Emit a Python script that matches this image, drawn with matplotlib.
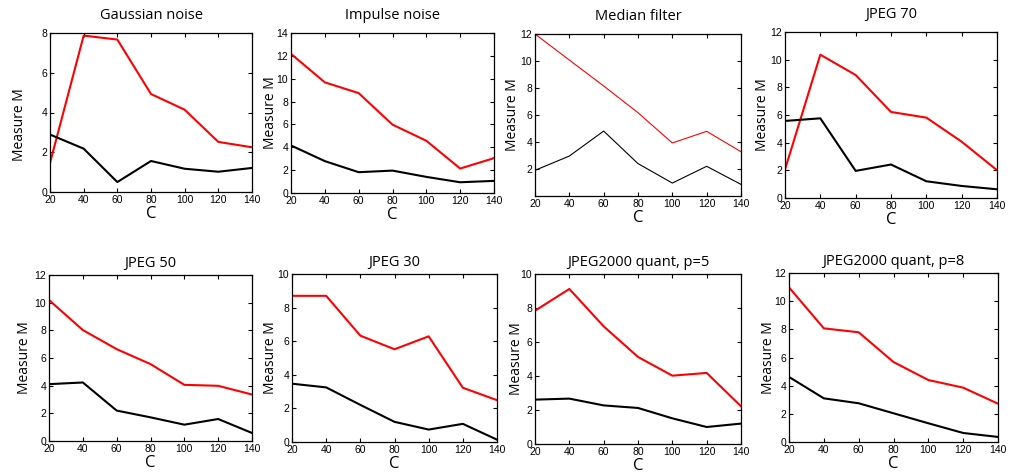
import matplotlib
matplotlib.use("Agg")
import matplotlib.pyplot as plt

C = [20, 40, 60, 80, 100, 120, 140]

titles = ["Gaussian noise", "Impulse noise", "Median filter", "JPEG 70",
          "JPEG 50", "JPEG 30", "JPEG2000 quant, p=5", "JPEG2000 quant, p=8"]

red_gauss = [1.46, 7.87, 7.67, 4.93, 4.14, 2.52, 2.25]
black_gauss = [2.89, 2.18, 0.50, 1.56, 1.17, 1.02, 1.21]
red_impulse = [12.17, 9.68, 8.74, 5.98, 4.57, 2.14, 3.05]
black_impulse = [4.16, 2.79, 1.82, 1.96, 1.41, 0.94, 1.06]
red_median = [12.0, 10.07, 8.15, 6.17, 3.93, 4.79, 3.28]
black_median = [1.90, 2.96, 4.81, 2.40, 0.96, 2.20, 0.86]
red_jpeg70 = [2.06, 10.36, 8.89, 6.22, 5.81, 4.07, 2.01]
black_jpeg70 = [5.57, 5.76, 1.96, 2.42, 1.21, 0.87, 0.63]
red_jpeg50 = [10.19, 8.02, 6.64, 5.56, 4.06, 3.99, 3.36]
black_jpeg50 = [4.11, 4.23, 2.20, 1.71, 1.18, 1.59, 0.58]
red_jpeg30 = [8.70, 8.70, 6.33, 5.52, 6.29, 3.23, 2.49]
black_jpeg30 = [3.47, 3.25, 2.21, 1.20, 0.74, 1.08, 0.14]
red_j2k5 = [7.84, 9.12, 6.92, 5.12, 4.02, 4.18, 2.22]
black_j2k5 = [2.61, 2.67, 2.27, 2.12, 1.51, 1.00, 1.20]
red_j2k8 = [10.98, 8.07, 7.79, 5.68, 4.40, 3.86, 2.72]
black_j2k8 = [4.62, 3.10, 2.75, 2.04, 1.33, 0.64, 0.36]

reds = [red_gauss, red_impulse, red_median, red_jpeg70,
        red_jpeg50, red_jpeg30, red_j2k5, red_j2k8]
blacks = [black_gauss, black_impulse, black_median, black_jpeg70,
          black_jpeg50, black_jpeg30, black_j2k5, black_j2k8]
ymax = [8, 14, 12, 12, 12, 10, 10, 12]

# axes boxes in pixels: left, right, top, bottom
boxes = [(50, 252, 33, 192), (291, 494, 33, 193), (535, 741, 34, 196), (785, 997, 32, 198),
         (49, 252, 275, 441), (292, 497, 274, 442), (535, 741, 274, 444), (789, 998, 273, 442)]
# distance (px) of the y-label centre left of each axes
ylab_off = [30, 21, 23, 22, 24, 21, 19, 20]

W, H = 1010, 476
fig = plt.figure(figsize=(W / 100, H / 100), dpi=100)
label_font = "Open Sans"
tick_font = "Liberation Sans"

for i, (l, r, t, b) in enumerate(boxes):
    ax = fig.add_axes([l / W, 1 - b / H, (r - l) / W, (b - t) / H])
    lw = 0.8 if i == 2 else 1.5
    ax.plot(C, reds[i], color="#ff0000", lw=lw)
    ax.plot(C, blacks[i], color="black", lw=lw)
    ax.set_xlim(20, 140)
    ax.set_ylim(0, ymax[i])
    ax.set_xticks(C)
    yt = list(range(0, ymax[i] + 1, 2))
    if i == 2:
        yt = yt[1:]
    ax.set_yticks(yt)
    ax.tick_params(direction="in", top=True, right=True, length=3, width=0.8,
                   labelsize=7.5, pad=2)
    for lab in ax.get_xticklabels() + ax.get_yticklabels():
        lab.set_fontfamily(tick_font)
    for s in ax.spines.values():
        s.set_linewidth(0.9)
    ax.set_xlabel("C", fontfamily=label_font, fontsize=12, labelpad=1)
    ax.set_ylabel("Measure M", fontfamily=label_font, fontsize=10)
    ycen = 0.5 if i != 0 else 1 - (125 - t) / (b - t)
    ax.yaxis.set_label_coords(-ylab_off[i] / (r - l), ycen)
    ax.yaxis.label.set_verticalalignment("center")
    ax.set_title(titles[i], fontfamily=label_font, fontsize=10.5,
                 pad=10 if i < 4 else 6)

fig.savefig("out.png", dpi=100)
